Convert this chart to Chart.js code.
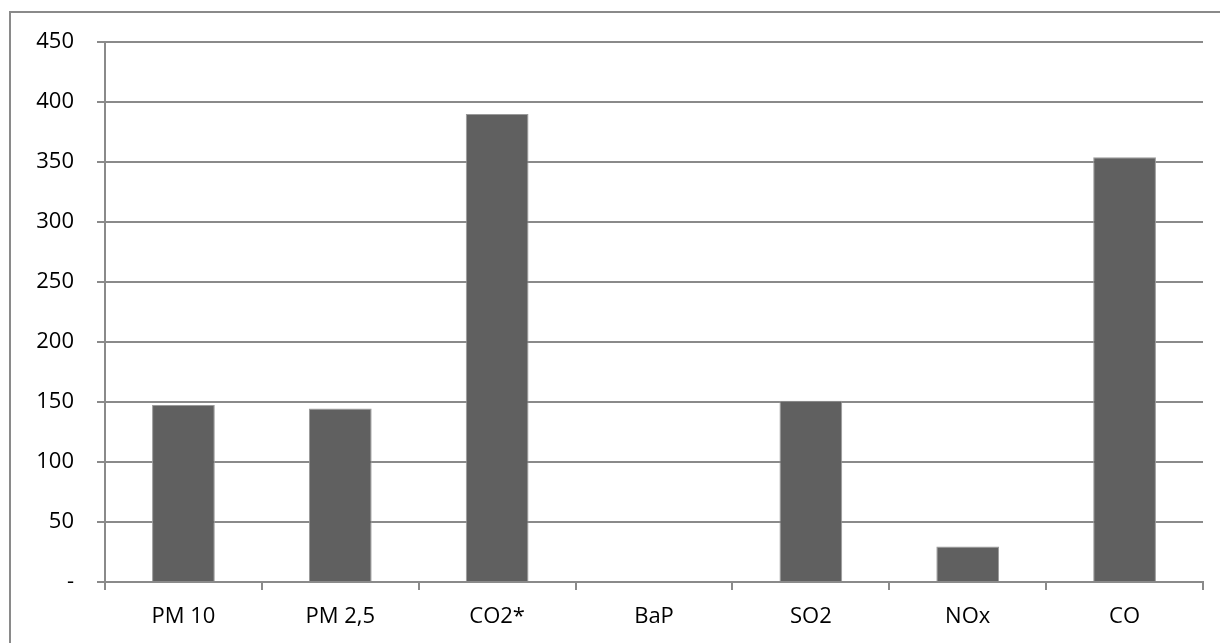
<!DOCTYPE html>
<html>
<head>
<meta charset="utf-8">
<script src="https://cdn.jsdelivr.net/npm/chart.js@4"></script>
<style>
  html, body { margin: 0; padding: 0; background: #fff; }
  #wrap { width: 1220px; height: 643px; }
</style>
</head>
<body>
<div id="wrap"><canvas id="emisChart" width="1220" height="643"></canvas></div>
<script>
const categories = ["PM 10", "PM 2,5", "CO2*", "BaP", "SO2", "NOx", "CO"];
const values = [147.5, 144.5, 390, 0, 151, 29.5, 354];
const yTicks = [0, 50, 100, 150, 200, 250, 300, 350, 400, 450];

// outer frame of the chart object (right and bottom run off the picture)
const frame = {
    id: "frame",
    beforeDraw(chart) {
        const ctx = chart.ctx;
        ctx.save();
        ctx.strokeStyle = "#8a8a8a";
        ctx.lineWidth = 2;
        ctx.strokeRect(10, 12, 1300, 700);
        ctx.restore();
    }
};

new Chart(document.getElementById("emisChart"), {
    type: "bar",
    data: {
        labels: categories,
        datasets: [{
            data: values,
            backgroundColor: "#606060",
            borderColor: "#9a9a9a",
            borderWidth: 1,
            categoryPercentage: 0.4,
            barPercentage: 1.0
        }]
    },
    options: {
        responsive: false,
        animation: false,
        layout: { padding: { left: 0, right: 17, top: 42, bottom: 0 } },
        plugins: {
            legend: { display: false },
            tooltip: { enabled: false }
        },
        scales: {
            x: {
                grid: {
                    offset: true,
                    drawOnChartArea: false,
                    drawTicks: true,
                    tickLength: 8,
                    color: "#8a8a8a",
                    lineWidth: 2
                },
                border: { color: "#8a8a8a", width: 2 },
                ticks: {
                    color: "#000",
                    font: { family: "Open Sans", size: 22 },
                    padding: 14,
                    maxRotation: 0
                },
                afterFit(scale) { scale.height = 61; }
            },
            y: {
                min: 0,
                max: 450,
                afterBuildTicks(scale) {
                    scale.ticks = yTicks.map(v => ({ value: v }));
                },
                grid: {
                    color: "#8a8a8a",
                    lineWidth: 2,
                    tickLength: 8
                },
                border: { color: "#8a8a8a", width: 2 },
                ticks: {
                    color: "#000",
                    font: { family: "Open Sans", size: 22 },
                    padding: 23,
                    callback: v => v === 0 ? "-" : v
                },
                afterFit(scale) { scale.width = 105; }
            }
        }
    },
    plugins: [frame]
});
</script>
</body>
</html>
